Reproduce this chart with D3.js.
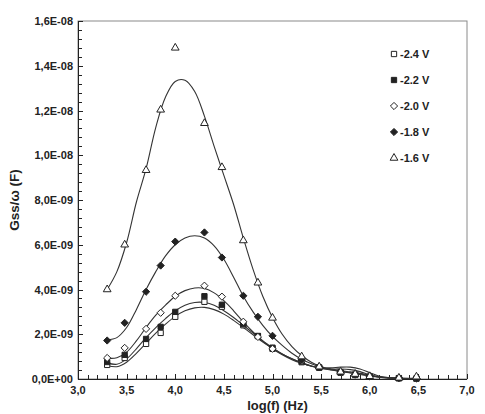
<!DOCTYPE html>
<html>
<head>
    <script src="https://d3js.org/d3.v7.min.js"></script>
    <style>
        body {
            margin: 0;
            background: #fff;
        }
        svg text {
            font-family: "Liberation Sans", Arial, sans-serif;
            font-weight: bold;
            fill: #222;
        }
    </style>
</head>
<body>
    <svg id="chart" width="485" height="414"></svg>

    <script>
        // measured frequencies, log(f)
        const logF = [3.30, 3.48, 3.70, 3.85, 4.00, 4.30, 4.48, 4.70, 4.85, 5.00, 5.30, 5.48, 5.70, 5.85, 6.00, 6.30, 6.48];

        // Gss/w values, in units of 1E-09 F
        const pts24 = [0.63, 0.94, 1.57, 2.06, 2.78, 3.45, 3.23, 2.40, 1.92, 1.35, 0.75, 0.50, 0.28, 0.18, 0.10, 0.03, 0.02];
        const pts22 = [0.76, 1.08, 1.79, 2.33, 3.00, 3.70, 3.32, 2.45, 1.92, 1.40, 0.78, 0.52, 0.30, 0.20, 0.10, 0.04, 0.02];
        const pts20 = [0.94, 1.39, 2.24, 2.96, 3.72, 4.17, 3.68, 2.56, 1.88, 1.35, 0.80, 0.55, 0.30, 0.20, 0.12, 0.04, 0.03];
        const pts18 = [1.72, 2.51, 3.90, 5.07, 6.14, 6.55, 5.43, 3.72, 2.78, 1.93, 0.85, 0.52, 0.32, 0.20, 0.12, 0.05, 0.04];
        const pts16 = [4.00, 6.00, 9.33, 12.03, 14.80, 11.43, 9.46, 6.19, 4.30, 2.73, 1.00, 0.55, 0.32, 0.22, 0.12, 0.05, 0.10];

        // fitted curves, log(f) from 3.3 to 6.5 by 0.1
        const fitX = [3.3, 3.4, 3.5, 3.6, 3.7, 3.8, 3.9, 4.0, 4.1, 4.2, 4.3, 4.4, 4.5, 4.6, 4.7, 4.8, 4.9,
                      5.0, 5.1, 5.2, 5.3, 5.4, 5.5, 5.6, 5.7, 5.8, 5.9, 6.0, 6.1, 6.2, 6.3, 6.4, 6.5];
        const fit24 = [0.60, 0.55, 0.75, 1.15, 1.60, 2.05, 2.45, 2.80, 3.05, 3.18, 3.20, 3.10, 2.90, 2.62, 2.30, 1.98, 1.65,
                       1.38, 1.12, 0.90, 0.72, 0.58, 0.50, 0.50, 0.53, 0.53, 0.45, 0.28, 0.12, 0.05, 0.03, 0.02, 0.02];
        const fit22 = [0.72, 0.66, 0.90, 1.35, 1.85, 2.30, 2.70, 3.05, 3.30, 3.42, 3.42, 3.30, 3.05, 2.75, 2.40, 2.05, 1.70,
                       1.40, 1.12, 0.90, 0.72, 0.58, 0.48, 0.45, 0.45, 0.42, 0.33, 0.18, 0.08, 0.04, 0.03, 0.02, 0.02];
        const fit20 = [0.93, 0.95, 1.20, 1.70, 2.30, 2.85, 3.30, 3.70, 3.95, 4.07, 4.05, 3.85, 3.50, 3.05, 2.55, 2.10, 1.70,
                       1.35, 1.08, 0.86, 0.70, 0.57, 0.47, 0.40, 0.34, 0.27, 0.20, 0.14, 0.08, 0.05, 0.03, 0.02, 0.02];
        const fit18 = [1.75, 1.85, 2.30, 3.10, 4.00, 4.80, 5.50, 6.00, 6.30, 6.40, 6.30, 5.95, 5.35, 4.55, 3.70, 3.00, 2.40,
                       1.90, 1.50, 1.15, 0.88, 0.68, 0.52, 0.42, 0.35, 0.28, 0.22, 0.15, 0.09, 0.05, 0.03, 0.02, 0.02];
        const fit16 = [4.00, 4.80, 6.10, 7.90, 9.40, 11.25, 12.60, 13.30, 13.35, 12.85, 11.75, 10.40, 9.10, 7.80, 6.30, 4.90, 3.70,
                       2.75, 2.00, 1.45, 1.05, 0.75, 0.55, 0.45, 0.38, 0.32, 0.25, 0.17, 0.10, 0.06, 0.04, 0.03, 0.03];

        const seriesNames = ["-2.4 V", "-2.2 V", "-2.0 V", "-1.8 V", "-1.6 V"];
        const seriesMarkers = ["squareOpen", "squareFilled", "diamondOpen", "diamondFilled", "triangleOpen"];

        const xTicks = [3.0, 3.5, 4.0, 4.5, 5.0, 5.5, 6.0, 6.5, 7.0];
        const xTickLabels = ["3,0", "3,5", "4,0", "4,5", "5,0", "5,5", "6,0", "6,5", "7,0"];
        const yTicks = [0, 2, 4, 6, 8, 10, 12, 14, 16];
        const yTickLabels = ["0,0E+00", "2,0E-09", "4,0E-09", "6,0E-09", "8,0E-09", "1,0E-08", "1,2E-08", "1,4E-08", "1,6E-08"];

        const pointSets = [pts24, pts22, pts20, pts18, pts16];
        const fitSets = [fit24, fit22, fit20, fit18, fit16];

        const margin = {top: 21, right: 18, bottom: 35, left: 78};
        const width = 485, height = 414;

        const svg = d3.select("#chart");

        const x = d3.scaleLinear()
            .domain([3, 7])
            .range([margin.left, width - margin.right]);

        const y = d3.scaleLinear()
            .domain([0, 16])
            .range([height - margin.bottom, margin.top]);

        // frame: grey top and right
        svg.append("rect")
            .attr("x", x(3))
            .attr("y", y(16))
            .attr("width", x(7) - x(3))
            .attr("height", y(0) - y(16))
            .attr("fill", "none")
            .attr("stroke", "#8a8a8a")
            .attr("stroke-width", 1);

        // minor ticks, pointing inside
        const g = svg.append("g").attr("stroke", "#222").attr("stroke-width", 1);
        g.selectAll(".xminor")
            .data(d3.range(30, 71).map(d => d / 10))
            .join("line")
            .attr("x1", d => Math.round(x(d)) + 0.5)
            .attr("x2", d => Math.round(x(d)) + 0.5)
            .attr("y1", y(0))
            .attr("y2", (d, i) => y(0) - (i % 5 === 0 ? 5 : 4));
        g.selectAll(".yminor")
            .data(d3.range(0, 41).map(d => d * 0.4))
            .join("line")
            .attr("x1", x(3))
            .attr("x2", (d, i) => x(3) + (i % 5 === 0 ? 5 : 4))
            .attr("y1", d => Math.round(y(d)) + 0.5)
            .attr("y2", d => Math.round(y(d)) + 0.5);

        // axes lines
        svg.append("line")
            .attr("x1", x(3) + 0.5).attr("x2", x(3) + 0.5)
            .attr("y1", y(16)).attr("y2", y(0))
            .attr("stroke", "#222");
        svg.append("line")
            .attr("x1", x(3)).attr("x2", x(7))
            .attr("y1", y(0) + 0.5).attr("y2", y(0) + 0.5)
            .attr("stroke", "#222");

        // tick labels
        svg.selectAll(".xlab")
            .data(xTicks)
            .join("text")
            .attr("x", d => x(d))
            .attr("y", y(0) + 15)
            .attr("text-anchor", "middle")
            .attr("font-size", 11)
            .text((d, i) => xTickLabels[i]);

        svg.selectAll(".ylab")
            .data(yTicks)
            .join("text")
            .attr("x", x(3) - 5)
            .attr("y", d => y(d) + 4)
            .attr("text-anchor", "end")
            .attr("font-size", 11)
            .text((d, i) => yTickLabels[i]);

        // axis titles
        svg.append("text")
            .attr("x", (x(3) + x(7)) / 2 + 5)
            .attr("y", 410)
            .attr("text-anchor", "middle")
            .attr("font-size", 13)
            .text("log(f) (Hz)");

        svg.append("text")
            .attr("transform", `translate(19, ${(y(0) + y(16)) / 2}) rotate(-90)`)
            .attr("text-anchor", "middle")
            .attr("font-size", 13.5)
            .text("Gss/ω (F)");

        // fitted curves
        const line = d3.line()
            .x(d => x(d[0]))
            .y(d => y(d[1]))
            .curve(d3.curveCatmullRom.alpha(0.5));

        fitSets.forEach(f => {
            svg.append("path")
                .datum(fitX.map((v, i) => [v, f[i]]))
                .attr("d", line)
                .attr("fill", "none")
                .attr("stroke", "#333")
                .attr("stroke-width", 1.1);
        });

        // markers
        const squareDiamond = {
            draw(ctx, size) {
                const r = Math.sqrt(size / 2);
                ctx.moveTo(0, -r);
                ctx.lineTo(r, 0);
                ctx.lineTo(0, r);
                ctx.lineTo(-r, 0);
                ctx.closePath();
            }
        };
        const shapes = {
            squareOpen: {type: d3.symbolSquare, size: 28, fill: "#fff"},
            squareFilled: {type: d3.symbolSquare, size: 28, fill: "#222"},
            diamondOpen: {type: squareDiamond, size: 26, fill: "#fff"},
            diamondFilled: {type: squareDiamond, size: 26, fill: "#222"},
            triangleOpen: {type: d3.symbolTriangle, size: 26, fill: "#fff"}
        };

        function drawMarker(sel, key) {
            const s = shapes[key];
            sel.attr("d", d3.symbol().type(s.type).size(s.size)())
                .attr("fill", s.fill)
                .attr("stroke", "#222")
                .attr("stroke-width", 1);
        }

        pointSets.forEach((vals, k) => {
            svg.append("g")
                .selectAll("path")
                .data(logF.map((v, i) => [v, vals[i]]))
                .join("path")
                .attr("transform", d => `translate(${x(d[0])},${y(d[1])})`)
                .call(drawMarker, seriesMarkers[k]);
        });

        // legend
        const legend = svg.append("g").attr("transform", "translate(394, 54)");
        seriesNames.forEach((name, i) => {
            const row = legend.append("g").attr("transform", `translate(0, ${i * 26})`);
            row.append("path").call(drawMarker, seriesMarkers[i]);
            row.append("text")
                .attr("x", 6)
                .attr("y", 4)
                .attr("font-size", 11)
                .text(name);
        });
    </script>
</body>
</html>
